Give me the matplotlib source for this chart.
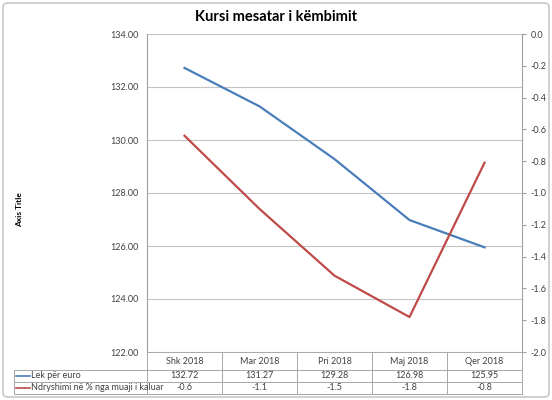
import matplotlib
matplotlib.use("Agg")
import matplotlib.pyplot as plt
from matplotlib.table import Table
from matplotlib.patches import FancyBboxPatch

plt.rcParams['font.family'] = ['Lato', 'DejaVu Sans']

months = ['Shk 2018', 'Mar 2018', 'Pri 2018', 'Maj 2018', 'Qer 2018']
lek_euro = [132.72, 131.27, 129.28, 126.98, 125.95]
ndryshimi = [-0.64, -1.10, -1.52, -1.78, -0.81]
series_names = ['Lek për euro', 'Ndryshimi në % nga muaji i kaluar']
left_ticks = [122, 124, 126, 128, 130, 132, 134]
right_ticks = [-2.0, -1.8, -1.6, -1.4, -1.2, -1.0, -0.8, -0.6, -0.4, -0.2, 0.0]

blue = '#4a7ebb'
red = '#be4b48'
grey_txt = '#404040'
grid_c = '#c4c4c4'

W, H = 552, 400
fig = plt.figure(figsize=(W / 100, H / 100), dpi=100)

# outer chart border
fig.patches.append(FancyBboxPatch((3 / W, 3 / H), 1 - 6 / W, 1 - 6 / H,
                                  boxstyle='round,pad=0,rounding_size=0.01',
                                  transform=fig.transFigure, fill=False,
                                  ec='#c8c8c8', lw=1.2))

x0, x1, y0, y1 = 147, 522, 352, 34
ax = fig.add_axes([x0 / W, 1 - y0 / H, (x1 - x0) / W, (y0 - y1) / H])
ax2 = ax.twinx()

xs = list(range(len(months)))
ax.plot(xs, lek_euro, color=blue, lw=1.6)
ax2.plot(xs, ndryshimi, color=red, lw=1.6)

ax.set_xlim(-0.5, len(months) - 0.5)
ax.set_ylim(122, 134)
ax2.set_ylim(-2.0, 0.0)
ax.set_yticks(left_ticks)
ax.set_yticklabels([f'{v:.2f}' for v in left_ticks])
ax2.set_yticks(right_ticks)
ax2.set_yticklabels([f'{v:.1f}' for v in right_ticks])
ax.set_xticks([])
ax.grid(axis='y', color=grid_c, lw=0.8)
ax.set_axisbelow(True)

ax.tick_params(axis='y', length=0, pad=6, labelsize=6.5, labelcolor=grey_txt)
ax2.tick_params(axis='y', length=3, pad=3, labelsize=6.5, labelcolor=grey_txt,
                color='#a0a0a0')
for a in (ax, ax2):
    for s in a.spines.values():
        s.set_visible(False)
ax2.spines['left'].set_visible(True)
ax2.spines['right'].set_visible(True)
ax2.spines['left'].set_color('#a0a0a0')
ax2.spines['right'].set_color('#a0a0a0')

fig.text(0.5, 1 - 17 / H, 'Kursi mesatar i këmbimit', ha='center', va='center',
         fontsize=10.5, fontweight='bold')
fig.text(20 / W, 1 - 210 / H, 'Axis Title', rotation=90, ha='center', va='center',
         fontsize=6, fontweight='bold')

# data table under the plot
tx0, tx1, ty0, ty1 = 14, 522, 394, 352
tab_ax = fig.add_axes([tx0 / W, 1 - ty0 / H, (tx1 - tx0) / W, (ty0 - ty1) / H])
tab_ax.axis('off')
tab_ax.set_xlim(0, 1)
tab_ax.set_ylim(0, 1)
tw = tx1 - tx0
label_w = (x0 - tx0) / tw
col_w = (x1 - x0) / len(months) / tw
head_h, row_h = 18, 12

tab = Table(tab_ax, bbox=[0, 0, 1, 1])
rows = [[f'{v:.2f}' for v in lek_euro], [f'{v:.1f}' for v in ndryshimi]]
for j, m in enumerate(months):
    tab.add_cell(0, j + 1, col_w, head_h, text=m, loc='center')
for i, r in enumerate(rows):
    tab.add_cell(i + 1, 0, label_w, row_h, text='', loc='left')
    for j, v in enumerate(r):
        tab.add_cell(i + 1, j + 1, col_w, row_h, text=v, loc='center')
tab.auto_set_font_size(False)
tab.set_fontsize(6.5)
for cell in tab.get_celld().values():
    cell.set_edgecolor('#a8a8a8')
    cell.set_linewidth(0.7)
    cell.get_text().set_color(grey_txt)
tab_ax.add_table(tab)

total_h = head_h + 2 * row_h
for i, (name, col) in enumerate(zip(series_names, [blue, red])):
    yc = 1 - (head_h + row_h * (i + 0.5)) / total_h
    tab_ax.plot([0.004, 0.032], [yc, yc], color=col, lw=1.2)
    tab_ax.text(0.034, yc, name, ha='left', va='center', fontsize=6.5, color=grey_txt)

fig.savefig('out.png', dpi=100)
